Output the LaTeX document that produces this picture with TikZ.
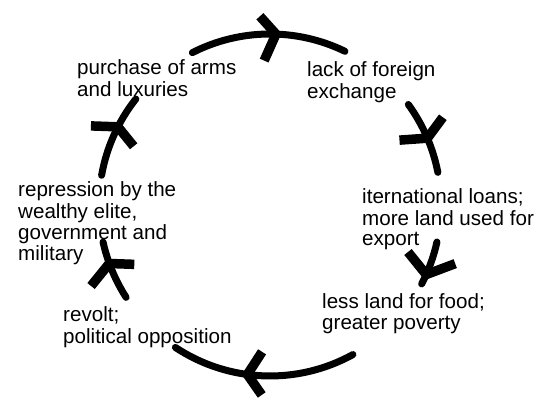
\documentclass[tikz,border=0pt]{standalone}
\usepackage{fontspec}
\setmainfont{Liberation Sans}
\usetikzlibrary{calc}
\begin{document}
\begin{tikzpicture}[x=1pt,y=1pt,
  cyc/.style={line width=7pt, line cap=round},
  barb/.style={line width=9.5pt, line cap=butt, line join=round},
  lbl/.style={anchor=base west, inner sep=0pt, font=\fontsize{20.6pt}{20.5pt}\selectfont}]
\useasboundingbox (0,0) rectangle (552,406);
\coordinate (c) at (270,201);
\def\R{171}
% labels
\node[lbl] (arms) at (77,331) {\begin{tabular}[t]{@{}l@{}}purchase of arms\\and luxuries\end{tabular}};
\node[lbl] (fx) at (307,329) {\begin{tabular}[t]{@{}l@{}}lack of foreign\\exchange\end{tabular}};
\node[lbl] (loans) at (362,202) {\begin{tabular}[t]{@{}l@{}}iternational loans;\\more land used for\\export\end{tabular}};
\node[lbl] (land) at (322,97) {\begin{tabular}[t]{@{}l@{}}less land for food;\\greater poverty\end{tabular}};
\node[lbl] (revolt) at (63,84) {\begin{tabular}[t]{@{}l@{}}revolt;\\political opposition\end{tabular}};
\node[lbl] (repr) at (18,209) {\begin{tabular}[t]{@{}l@{}}repression by the\\wealthy elite,\\government and\\military\end{tabular}};
% top arc: arms -> fx
\draw[cyc] ($(c)+(117:\R)$) arc[start angle=117, end angle=64, radius=\R];
\coordinate (v1) at ($(c)+(88:\R)$);
\draw[barb] ($(v1)+(132:24)$) -- (v1) -- ($(v1)+(246:29)$);
% right upper: fx -> loans
\draw[cyc] ($(c)+(36:\R)$) arc[start angle=36, end angle=11, radius=\R];
\coordinate (v2) at ($(c)+(23:\R)$);
\draw[barb] ($(v2)+(184:28)$) -- (v2) -- ($(v2)+(53.5:26)$);
% right lower: loans -> land
\draw[cyc] ($(c)+(-12.5:\R)$) arc[start angle=-12.5, end angle=-27.5, radius=\R];
\coordinate (v3) at ($(c)+(-24:\R)$);
\draw[barb] ($(v3)+(129:29)$) -- (v3) -- ($(v3)+(20.6:31)$);
% bottom: land -> revolt
\draw[cyc] ($(c)+(-61:\R)$) arc[start angle=-61, end angle=-123.6, radius=\R];
\coordinate (v4) at ($(c)+(-97.6:\R)$);
\draw[barb] ($(v4)+(57:27)$) -- (v4) -- ($(v4)+(-55:25)$);
% left lower: revolt -> repr
\draw[cyc] ($(c)+(212.7:\R)$) arc[start angle=212.7, end angle=192.5, radius=\R];
\coordinate (v5) at ($(c)+(200:\R)$);
\draw[barb] ($(v5)+(231:29)$) -- (v5) -- ($(v5)+(-2:25)$);
% left upper: repr -> arms
\draw[cyc] ($(c)+(170:\R)$) arc[start angle=170, end angle=141.7, radius=\R];
\coordinate (v6) at ($(c)+(152.8:\R)$);
\draw[barb] ($(v6)+(178:27)$) -- (v6) -- ($(v6)+(-51:25)$);
\end{tikzpicture}
\end{document}
